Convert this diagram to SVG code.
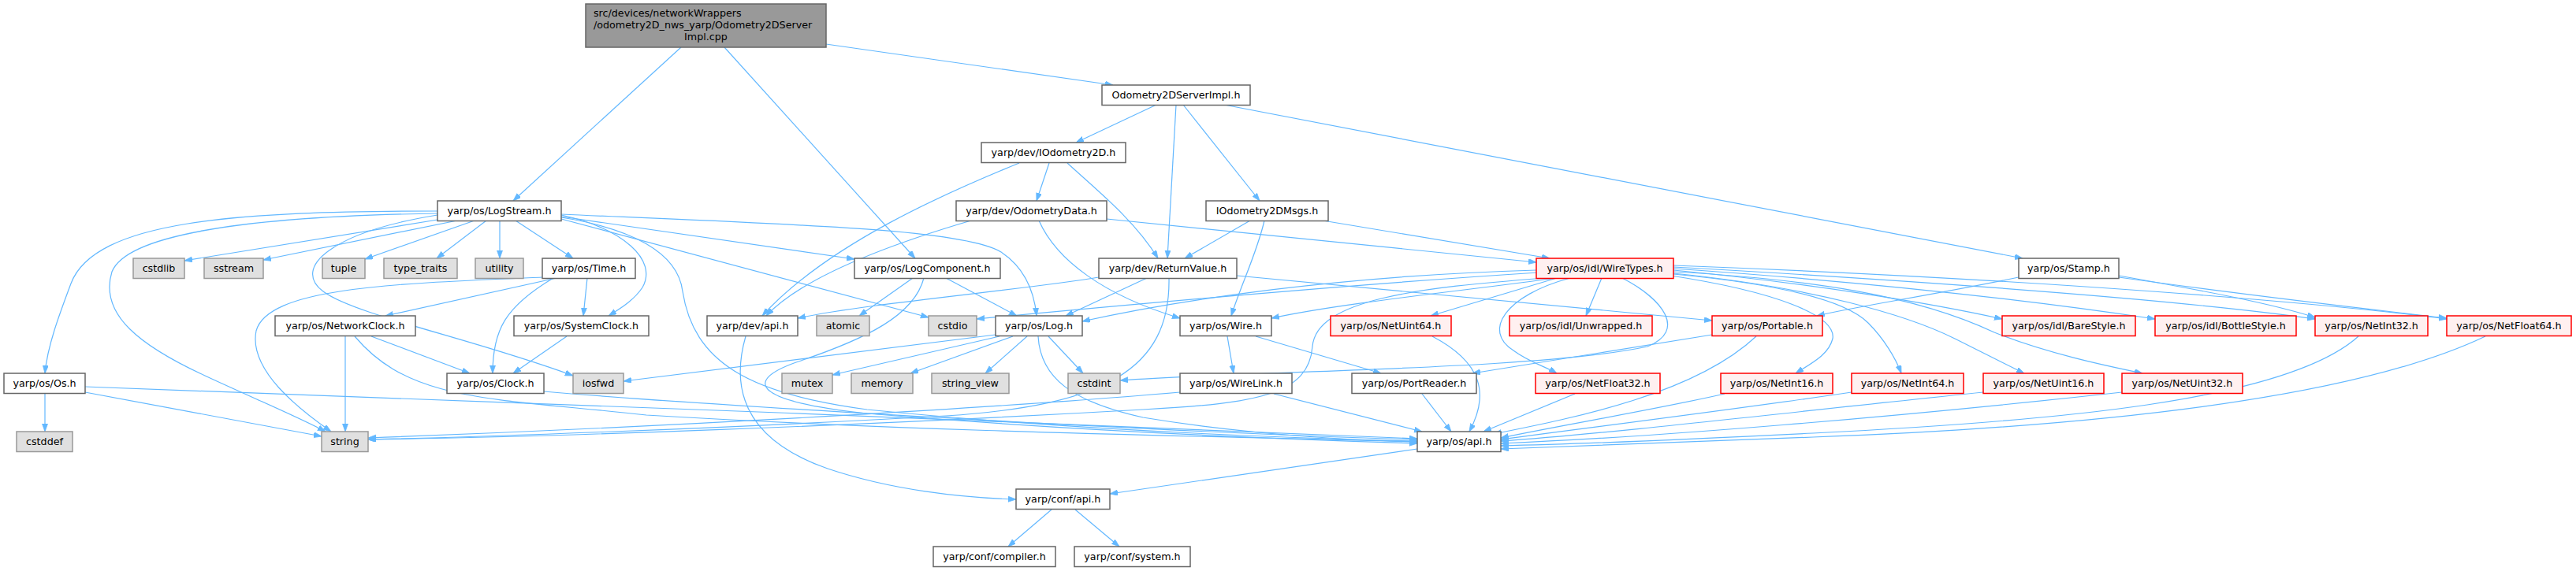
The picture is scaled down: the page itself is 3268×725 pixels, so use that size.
<svg xmlns="http://www.w3.org/2000/svg" width="3268" height="725" viewBox="0 0 3268 725">
<style>
rect{stroke-width:1.5}
.n{fill:#ffffff;stroke:#666666}
.m{fill:#999999;stroke:#666666}
.s{fill:#e0e0e0;stroke:#999999}
.r{fill:#fff0f0;stroke:#ff0000}
text{font-family:"DejaVu Sans","Liberation Sans",sans-serif;font-size:12.7px;fill:#000;text-anchor:middle}
text.l{text-anchor:start}
#edges path{fill:none;stroke:#63b8ff;stroke-width:1.2;marker-end:url(#a)}
</style>
<defs>
<marker id="a" markerWidth="11" markerHeight="8" refX="10" refY="3.5" orient="auto" markerUnits="userSpaceOnUse"><path d="M0,0 L10,3.5 L0,7 z" fill="#63b8ff" stroke="#63b8ff" stroke-width="0.8"/></marker>
</defs>
<rect width="3268" height="725" fill="#ffffff"/>
<g id="edges">
<path d="M864,60 L651,255"/>
<path d="M919,60 L1161,328"/>
<path d="M1048,56 L1412,108"/>
<path d="M1467,133 L1365,181"/>
<path d="M1492,133 L1481,328"/>
<path d="M1501,133 L1598,255"/>
<path d="M1553,133 L2566,328"/>
<path d="M1293,207 C1200,245 1050,310 967,401"/>
<path d="M1331,207 L1315,255"/>
<path d="M1354,207 C1390,240 1440,280 1469,328"/>
<path d="M1232,280 C1130,310 1020,350 972,401"/>
<path d="M1318,280 C1340,330 1400,375 1497,404"/>
<path d="M1404,278 L1949,333"/>
<path d="M1586,280 L1503,328"/>
<path d="M1604,280 C1595,320 1575,360 1562,401"/>
<path d="M1678,280 L1966,328"/>
<path d="M1394,352 C1300,368 1100,385 1012,404"/>
<path d="M1455,353 L1352,401"/>
<path d="M1483,353 C1485,470 1400,515 1200,528 C900,545 600,555 467,558"/>
<path d="M1569,350 L2172,407"/>
<path d="M555,279 L234,331"/>
<path d="M580,280 L334,330"/>
<path d="M602,280 L463,329"/>
<path d="M617,280 L554,328"/>
<path d="M634,280 L634,328"/>
<path d="M654,280 L727,328"/>
<path d="M555,268 C300,268 120,280 90,360 C75,400 60,440 57,474"/>
<path d="M555,271 C300,275 160,300 142,345 C125,400 180,440 260,477 C320,505 380,530 413,548"/>
<path d="M555,273 C420,295 370,340 410,370 C450,400 600,430 727,477"/>
<path d="M712,273 C790,290 835,330 815,365 C805,380 790,390 772,401"/>
<path d="M712,275 L1084,329"/>
<path d="M712,278 L1178,403"/>
<path d="M712,272 C1000,285 1220,290 1270,320 C1300,340 1312,370 1315,401"/>
<path d="M712,276 C800,290 860,320 866,370 C880,460 950,500 1100,520 C1400,550 1700,558 1798,560"/>
<path d="M688,352 C500,360 340,365 325,420 C315,470 380,520 420,548"/>
<path d="M706,353 L489,401"/>
<path d="M702,353 C640,390 625,420 625,474"/>
<path d="M745,353 L740,401"/>
<path d="M471,427 L596,474"/>
<path d="M438,427 L438,548"/>
<path d="M450,427 C520,510 620,505 820,527 C1200,550 1600,555 1798,561"/>
<path d="M690,497 C900,515 1500,550 1798,558"/>
<path d="M57,500 L57,548"/>
<path d="M108,498 L408,554"/>
<path d="M108,491 C400,500 1400,540 1798,557"/>
<path d="M719,427 L651,474"/>
<path d="M1158,353 L1090,401"/>
<path d="M1200,353 L1290,401"/>
<path d="M1172,353 C1160,400 1100,430 1010,460 C940,485 960,510 1100,525 C1400,550 1700,560 1798,563"/>
<path d="M1268,427 L1056,476"/>
<path d="M1285,427 L1155,474"/>
<path d="M1303,427 L1250,474"/>
<path d="M1330,427 L1374,474"/>
<path d="M1263,425 L791,484"/>
<path d="M1317,427 C1320,480 1360,510 1450,530 C1600,555 1750,560 1798,561"/>
<path d="M946,427 C925,500 950,560 1050,595 C1130,622 1220,632 1289,634"/>
<path d="M1798,570 L1408,627"/>
<path d="M1334,647 L1279,694"/>
<path d="M1364,647 L1420,694"/>
<path d="M1557,427 L1565,474"/>
<path d="M1593,427 L1752,474"/>
<path d="M1616,500 L1804,548"/>
<path d="M1497,498 C1300,515 900,540 467,556"/>
<path d="M1804,500 L1841,548"/>
<path d="M2172,425 C2050,445 1950,460 1868,474"/>
<path d="M2228,427 C2150,500 2000,530 1895,551"/>
<path d="M1949,343 C1700,350 1500,380 1373,408"/>
<path d="M1952,346 C1700,362 1450,385 1239,405"/>
<path d="M1975,353 C1850,370 1700,385 1613,404"/>
<path d="M1961,353 C1800,365 1670,380 1665,440 C1660,500 1600,512 1450,520 C1100,540 700,555 467,558"/>
<path d="M2058,353 C2110,380 2140,420 2090,440 C1950,470 1600,470 1421,483"/>
<path d="M1975,353 L1815,401"/>
<path d="M2032,353 L2012,401"/>
<path d="M1992,353 C1910,375 1880,420 1920,445 C1940,460 1960,465 1975,474"/>
<path d="M2120,350 C2250,370 2330,400 2325,430 C2320,450 2300,460 2278,474"/>
<path d="M2123,348 C2250,360 2340,380 2370,410 C2390,430 2405,455 2412,474"/>
<path d="M2123,347 C2300,365 2420,400 2480,430 C2520,450 2545,463 2568,474"/>
<path d="M2123,345 C2300,355 2430,375 2530,422 C2600,450 2680,466 2718,474"/>
<path d="M2123,343 C2300,360 2450,385 2540,405"/>
<path d="M2123,341 C2400,360 2600,385 2734,405"/>
<path d="M2123,339 C2500,360 2800,385 2937,405"/>
<path d="M2123,337 C2600,355 2950,385 3104,405"/>
<path d="M2561,352 C2450,375 2350,390 2305,401"/>
<path d="M2688,350 C2800,370 2880,385 2937,403"/>
<path d="M2688,352 C2850,375 3000,392 3104,404"/>
<path d="M1817,427 C1880,460 1890,500 1864,548"/>
<path d="M1998,500 L1882,548"/>
<path d="M2188,500 C2100,520 1980,540 1904,556"/>
<path d="M2349,498 C2200,520 2000,545 1904,558"/>
<path d="M2516,498 C2300,520 2050,550 1904,560"/>
<path d="M2692,498 C2400,530 2100,555 1904,563"/>
<path d="M2992,427 C2900,510 2600,535 2300,550 C2100,560 1950,565 1904,566"/>
<path d="M3153,427 C3000,500 2700,540 2300,555 C2100,563 1950,568 1904,570"/>
</g>
<g id="node-main"><rect class="m" x="743" y="5" width="305" height="55"/><text class="l" x="753" y="21">src/devices/networkWrappers</text><text class="l" x="753" y="36">/odometry2D_nws_yarp/Odometry2DServer</text><text x="895.5" y="51">Impl.cpp</text></g>
<g id="node-odimpl"><rect class="n" x="1398" y="108" width="188" height="25.5"/><text x="1492" y="125">Odometry2DServerImpl.h</text></g>
<g id="node-iodo"><rect class="n" x="1245" y="181" width="183" height="25.5"/><text x="1336.5" y="198">yarp/dev/IOdometry2D.h</text></g>
<g id="node-odata"><rect class="n" x="1213" y="255" width="191" height="25.5"/><text x="1308.5" y="272">yarp/dev/OdometryData.h</text></g>
<g id="node-msgs"><rect class="n" x="1530" y="255" width="155" height="25.5"/><text x="1607.5" y="272">IOdometry2DMsgs.h</text></g>
<g id="node-logstream"><rect class="n" x="555" y="255" width="157" height="25.5"/><text x="633.5" y="272">yarp/os/LogStream.h</text></g>
<g id="node-cstdlib"><rect class="s" x="169" y="328" width="65" height="25.5"/><text x="201.5" y="345">cstdlib</text></g>
<g id="node-sstream"><rect class="s" x="259" y="328" width="75" height="25.5"/><text x="296.5" y="345">sstream</text></g>
<g id="node-tuple"><rect class="s" x="409" y="328" width="54" height="25.5"/><text x="436" y="345">tuple</text></g>
<g id="node-type_traits"><rect class="s" x="487" y="328" width="93" height="25.5"/><text x="533.5" y="345">type_traits</text></g>
<g id="node-utility"><rect class="s" x="603" y="328" width="61" height="25.5"/><text x="633.5" y="345">utility</text></g>
<g id="node-time"><rect class="n" x="688" y="328" width="118" height="25.5"/><text x="747" y="345">yarp/os/Time.h</text></g>
<g id="node-logcomp"><rect class="n" x="1084" y="328" width="185" height="25.5"/><text x="1176.5" y="345">yarp/os/LogComponent.h</text></g>
<g id="node-retval"><rect class="n" x="1394" y="328" width="175" height="25.5"/><text x="1481.5" y="345">yarp/dev/ReturnValue.h</text></g>
<g id="node-wiretypes"><rect class="r" x="1949" y="328" width="174" height="25.5"/><text x="2036" y="345">yarp/os/idl/WireTypes.h</text></g>
<g id="node-stamp"><rect class="n" x="2561" y="328" width="127" height="25.5"/><text x="2624.5" y="345">yarp/os/Stamp.h</text></g>
<g id="node-netclock"><rect class="n" x="349" y="401" width="178" height="25.5"/><text x="438" y="418">yarp/os/NetworkClock.h</text></g>
<g id="node-sysclock"><rect class="n" x="652" y="401" width="171" height="25.5"/><text x="737.5" y="418">yarp/os/SystemClock.h</text></g>
<g id="node-devapi"><rect class="n" x="897" y="401" width="115" height="25.5"/><text x="954.5" y="418">yarp/dev/api.h</text></g>
<g id="node-atomic"><rect class="s" x="1036" y="401" width="67" height="25.5"/><text x="1069.5" y="418">atomic</text></g>
<g id="node-cstdio"><rect class="s" x="1178" y="401" width="61" height="25.5"/><text x="1208.5" y="418">cstdio</text></g>
<g id="node-log"><rect class="n" x="1263" y="401" width="110" height="25.5"/><text x="1318" y="418">yarp/os/Log.h</text></g>
<g id="node-wire"><rect class="n" x="1497" y="401" width="116" height="25.5"/><text x="1555" y="418">yarp/os/Wire.h</text></g>
<g id="node-netuint64"><rect class="r" x="1688" y="401" width="153" height="25.5"/><text x="1764.5" y="418">yarp/os/NetUint64.h</text></g>
<g id="node-unwrapped"><rect class="r" x="1915" y="401" width="181" height="25.5"/><text x="2005.5" y="418">yarp/os/idl/Unwrapped.h</text></g>
<g id="node-portable"><rect class="r" x="2172" y="401" width="140" height="25.5"/><text x="2242" y="418">yarp/os/Portable.h</text></g>
<g id="node-barestyle"><rect class="r" x="2540" y="401" width="169" height="25.5"/><text x="2624.5" y="418">yarp/os/idl/BareStyle.h</text></g>
<g id="node-bottlestyle"><rect class="r" x="2734" y="401" width="179" height="25.5"/><text x="2823.5" y="418">yarp/os/idl/BottleStyle.h</text></g>
<g id="node-netint32"><rect class="r" x="2937" y="401" width="143" height="25.5"/><text x="3008.5" y="418">yarp/os/NetInt32.h</text></g>
<g id="node-netfloat64"><rect class="r" x="3104" y="401" width="158" height="25.5"/><text x="3183" y="418">yarp/os/NetFloat64.h</text></g>
<g id="node-os"><rect class="n" x="5" y="474" width="103" height="25.5"/><text x="56.5" y="491">yarp/os/Os.h</text></g>
<g id="node-clock"><rect class="n" x="567" y="474" width="123" height="25.5"/><text x="628.5" y="491">yarp/os/Clock.h</text></g>
<g id="node-iosfwd"><rect class="s" x="727" y="474" width="64" height="25.5"/><text x="759" y="491">iosfwd</text></g>
<g id="node-mutex"><rect class="s" x="992" y="474" width="64" height="25.5"/><text x="1024" y="491">mutex</text></g>
<g id="node-memory"><rect class="s" x="1080" y="474" width="78" height="25.5"/><text x="1119" y="491">memory</text></g>
<g id="node-string_view"><rect class="s" x="1182" y="474" width="98" height="25.5"/><text x="1231" y="491">string_view</text></g>
<g id="node-cstdint"><rect class="s" x="1355" y="474" width="66" height="25.5"/><text x="1388" y="491">cstdint</text></g>
<g id="node-wirelink"><rect class="n" x="1497" y="474" width="142" height="25.5"/><text x="1568" y="491">yarp/os/WireLink.h</text></g>
<g id="node-portreader"><rect class="n" x="1715" y="474" width="158" height="25.5"/><text x="1794" y="491">yarp/os/PortReader.h</text></g>
<g id="node-netfloat32"><rect class="r" x="1948" y="474" width="158" height="25.5"/><text x="2027" y="491">yarp/os/NetFloat32.h</text></g>
<g id="node-netint16"><rect class="r" x="2183" y="474" width="142" height="25.5"/><text x="2254" y="491">yarp/os/NetInt16.h</text></g>
<g id="node-netint64"><rect class="r" x="2349" y="474" width="142" height="25.5"/><text x="2420" y="491">yarp/os/NetInt64.h</text></g>
<g id="node-netuint16"><rect class="r" x="2516" y="474" width="153" height="25.5"/><text x="2592.5" y="491">yarp/os/NetUint16.h</text></g>
<g id="node-netuint32"><rect class="r" x="2692" y="474" width="153" height="25.5"/><text x="2768.5" y="491">yarp/os/NetUint32.h</text></g>
<g id="node-cstddef"><rect class="s" x="21" y="548" width="71" height="25.5"/><text x="56.5" y="565">cstddef</text></g>
<g id="node-string"><rect class="s" x="408" y="548" width="59" height="25.5"/><text x="437.5" y="565">string</text></g>
<g id="node-osapi"><rect class="n" x="1798" y="548" width="106" height="25.5"/><text x="1851" y="565">yarp/os/api.h</text></g>
<g id="node-confapi"><rect class="n" x="1289" y="621" width="119" height="25.5"/><text x="1348.5" y="638">yarp/conf/api.h</text></g>
<g id="node-compiler"><rect class="n" x="1184" y="694" width="155" height="25.5"/><text x="1261.5" y="711">yarp/conf/compiler.h</text></g>
<g id="node-system"><rect class="n" x="1363" y="694" width="147" height="25.5"/><text x="1436.5" y="711">yarp/conf/system.h</text></g>
</svg>
